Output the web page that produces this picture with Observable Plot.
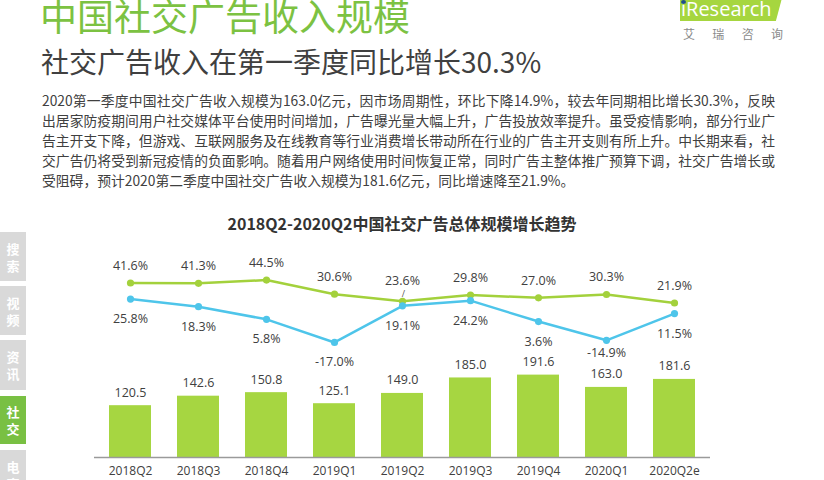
<!DOCTYPE html>
<html><head><meta charset="utf-8">
<script src="https://cdn.jsdelivr.net/npm/d3@7"></script>
<script src="https://cdn.jsdelivr.net/npm/@observablehq/plot@0.6"></script>
<style>
html,body{margin:0;padding:0;background:#fff}
body{width:824px;height:480px;overflow:hidden;position:relative;font-family:"Noto Sans CJK SC","Noto Sans",sans-serif}
.abs{position:absolute}
#title{left:40px;top:-3px;font-size:37px;line-height:37px;color:#7cc242;white-space:nowrap}
#subtitle{left:41px;top:47px;font-size:28px;line-height:28px;color:#404040;white-space:nowrap}
#para{left:42px;top:90px;width:733px;font-size:13.8px;line-height:20px;color:#404040}
#para div{white-space:nowrap}
#para .j{text-align:justify;text-align-last:justify}
#ctitle{left:0;width:804px;top:211px;text-align:center;font-size:16px;line-height:24px;font-weight:bold;color:#333}
.side{left:0;width:26px;background:#d9d9d9;color:#fff;font-weight:bold;font-size:13px;line-height:17px;text-align:center;display:flex;flex-direction:column;justify-content:center}
.side.on{background:#79c043}
#chart1,#chart2{left:0;top:240px;width:824px;height:240px}
#logo{left:680px;top:-2px;width:102px;height:23px;background:#a6d63f;clip-path:polygon(0 0,100% 0,94% 100%,0 100%)}
#logotxt{left:681px;top:-4px;font-family:"Open Sans";font-size:20px;line-height:26px;color:#fff;white-space:nowrap}
#logodot{left:681px;top:0px;width:5px;height:4px;border-radius:50%;background:#1f4e8c}
#logocn{left:683px;top:26px;width:100px;font-size:12px;line-height:16px;color:#8a8a8a;text-align:justify;text-align-last:justify}
</style></head><body>
<div id="title" class="abs">中国社交广告收入规模</div>
<div id="logo" class="abs"></div>
<div id="logotxt" class="abs">iResearch</div>
<div id="logodot" class="abs"></div>
<div id="logocn" class="abs">艾 瑞 咨 询</div>
<div id="subtitle" class="abs">社交广告收入在第一季度同比增长30.3%</div>
<div id="para" class="abs">
<div class="j">2020第一季度中国社交广告收入规模为163.0亿元，因市场周期性，环比下降14.9%，较去年同期相比增长30.3%，反映</div>
<div class="j">出居家防疫期间用户社交媒体平台使用时间增加，广告曝光量大幅上升，广告投放效率提升。虽受疫情影响，部分行业广</div>
<div class="j">告主开支下降，但游戏、互联网服务及在线教育等行业消费增长带动所在行业的广告主开支则有所上升。中长期来看，社</div>
<div class="j">交广告仍将受到新冠疫情的负面影响。随着用户网络使用时间恢复正常，同时广告主整体推广预算下调，社交广告增长或</div>
<div>受阻碍，预计2020第二季度中国社交广告收入规模为181.6亿元，同比增速降至21.9%。</div>
</div>
<div id="ctitle" class="abs">2018Q2-2020Q2中国社交广告总体规模增长趋势</div>
<div class="abs side" style="top:232px;height:49px">搜<br>索</div>
<div class="abs side" style="top:286px;height:49px">视<br>频</div>
<div class="abs side" style="top:340px;height:50px">资<br>讯</div>
<div class="abs side on" style="top:396px;height:48px">社<br>交</div>
<div class="abs side" style="top:450px;height:40px;justify-content:flex-start;padding-top:8px">电<br>商</div>
<div id="chart1" class="abs"></div>
<div id="chart2" class="abs"></div>
<script>
const quarters = ["2018Q2","2018Q3","2018Q4","2019Q1","2019Q2","2019Q3","2019Q4","2020Q1","2020Q2e"];
const revenue = [120.5,142.6,150.8,125.1,149.0,185.0,191.6,163.0,181.6];
const yoyGrowth = [41.6,41.3,44.5,30.6,23.6,29.8,27.0,30.3,21.9];
const qoqGrowth = [25.8,18.3,5.8,-17.0,19.1,24.2,3.6,-14.9,11.5];

const rows = quarters.map((q,i)=>({q, rev: revenue[i], yoy: yoyGrowth[i], qoq: qoqGrowth[i]}));
const green = "#a6d641", lineGreen = "#a3d13c", blue = "#4ec5ea", txt = "#404040";
const xBase = {domain: quarters, paddingInner: 0.38, paddingOuter: 0.19};
const common = {width: 824, height: 240, marginLeft: 94, marginRight: 114};
const style = {fontFamily: "'Open Sans', sans-serif", fontSize: "12px", color: txt, background: "transparent", overflow: "visible"};

const barsPlot = Plot.plot({
  ...common, marginTop: 131, marginBottom: 23,
  x: {...xBase, label: null, tickSize: 0, tickPadding: 9},
  y: {domain: [0, 200], axis: null},
  style,
  marks: [
    Plot.barY(rows, {x: "q", y: "rev", fill: green}),
    Plot.ruleY([0], {stroke: "#9a9a9a", strokeWidth: 1.5}),
    Plot.text(rows, {x: "q", y: "rev", text: d => d.rev.toFixed(1), dy: -13, fontSize: 12.5, fill: txt})
  ]
});
document.getElementById("chart1").appendChild(barsPlot);

const linesPlot = Plot.plot({
  ...common, marginTop: 34, marginBottom: 135,
  x: {...xBase, axis: null},
  y: {domain: [-20, 50], axis: null},
  style,
  marks: [
    Plot.line(rows, {x: "q", y: "yoy", stroke: lineGreen, strokeWidth: 2.5}),
    Plot.dot(rows, {x: "q", y: "yoy", fill: lineGreen, r: 3.6}),
    Plot.line(rows, {x: "q", y: "qoq", stroke: blue, strokeWidth: 2.5}),
    Plot.dot(rows, {x: "q", y: "qoq", fill: blue, r: 3.6}),
    Plot.text(rows.filter(d => d.q !== "2019Q2"), {x: "q", y: "yoy", text: d => d.yoy.toFixed(1) + "%", dy: -17, fontSize: 12.5, fill: txt}),
    Plot.text(rows.filter(d => d.q === "2019Q2"), {x: "q", y: "yoy", text: d => d.yoy.toFixed(1) + "%", dy: -20, fontSize: 12.5, fill: txt}),
    Plot.text(rows.filter(d => d.q === "2019Q2"), {x: "q", y: "yoy", text: () => "/", dy: -7, dx: 1, fontSize: 9, fill: "#555"}),
    Plot.text(rows.filter(d => d.q !== "2020Q1"), {x: "q", y: "qoq", text: d => d.qoq.toFixed(1) + "%", dy: 20, fontSize: 12.5, fill: txt}),
    Plot.text(rows.filter(d => d.q === "2020Q1"), {x: "q", y: "qoq", text: d => d.qoq.toFixed(1) + "%", dy: 13, fontSize: 12.5, fill: txt})
  ]
});
document.getElementById("chart2").appendChild(linesPlot);
</script>
</body></html>
